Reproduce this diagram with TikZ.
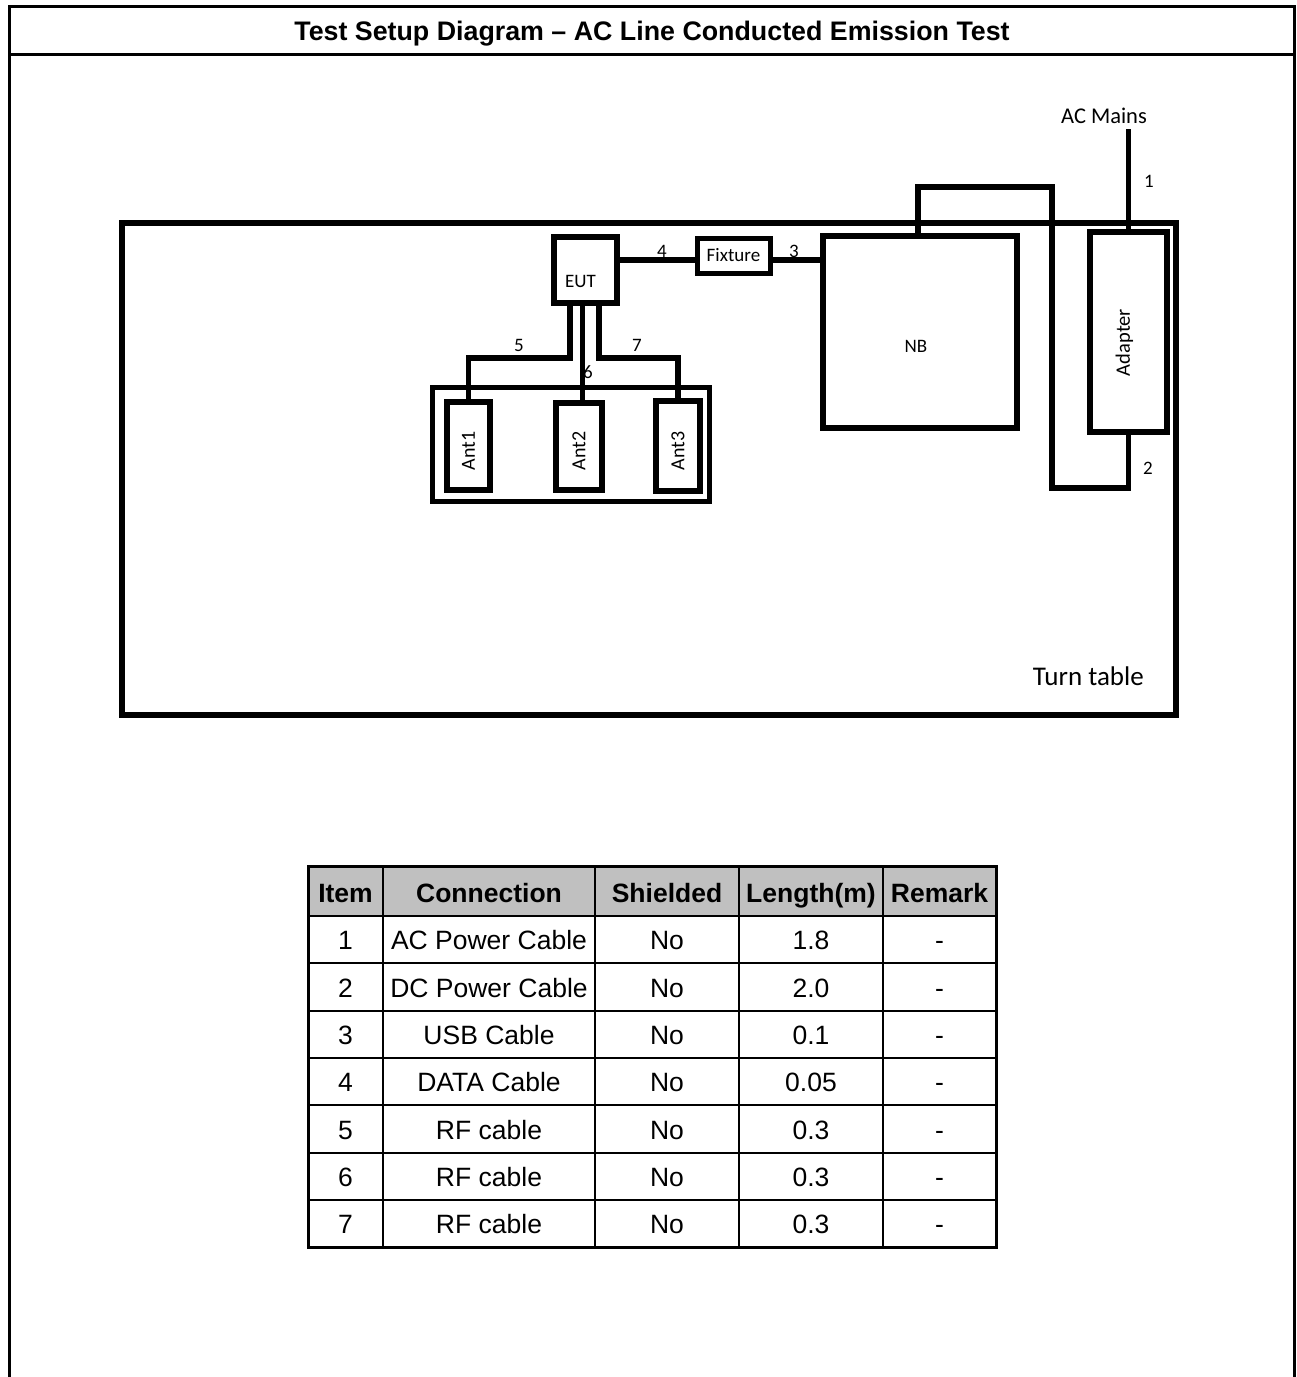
\documentclass[tikz,border=0pt]{standalone}
\usepackage{fontspec}
\setmainfont{Liberation Sans}
\newfontfamily\diafont{Carlito}
\definecolor{HeadGray}{RGB}{192,192,192}
\usetikzlibrary{positioning,calc}

\begin{document}
\begin{tikzpicture}[
      x=1pt, y=-1pt,
      every node/.style={align=center, inner sep=0pt},
      unit/.style={draw, line width=5.5pt, font=\diafont\fontsize{19}{21}\selectfont},
      antbox/.style={unit, text height=48pt, font=\diafont\fontsize{20}{22}\selectfont},
      cable/.style={line width=5.5pt},
      num/.style={font=\diafont\fontsize{19}{21}\selectfont},
      frame/.style={line width=3pt},
      grid/.style={line width=2pt},
      cell/.style={anchor=base, font=\fontsize{26.5}{29}\selectfont},
      head/.style={cell, font=\bfseries\fontsize{26.5}{29}\selectfont}
  ]
    \useasboundingbox (0,0) rectangle (1297,1377);
    \draw[frame] (9,1377) |- (1294,6.5) -- (1294,1377);
    \draw[frame] (9,54) -- (1294,54);
    \node[anchor=base, font=\bfseries\fontsize{26.8}{29}\selectfont] (title) at (652,40.5)
      {Test Setup Diagram -- AC Line Conducted Emission Test};

    \node[draw, line width=6pt, minimum width=1054pt, minimum height=492pt] (tt) at (649,469) {};
    \node[font=\diafont\fontsize{27}{30}\selectfont, anchor=south east] (ttlabel) at (1144,686) {Turn table};

    \node[unit, text height=36pt, minimum width=63pt, minimum height=66pt] (eut) at (585.5,270) {EUT\hspace*{10pt}};
    \node[unit, line width=5pt, minimum width=73pt, minimum height=35pt] (fix) at (733.5,255.5) {Fixture};
    \node[unit, text height=40pt, minimum width=194pt, minimum height=192pt] (nb) at (920,332) {NB\hspace*{8pt}};
    \node[unit, text height=88pt, minimum width=77pt, minimum height=200pt, font=\diafont\fontsize{20.5}{22}\selectfont] (adp) at (1128.5,332)
      {\rotatebox{90}{Adapter}\hspace*{8pt}};
    \node[font=\diafont\fontsize{22.5}{25}\selectfont] (mains) at (1104,116) {AC Mains};

    \node[unit, line width=5pt, minimum width=277pt, minimum height=114pt] (antbay) at (571,444.5) {};
    \node[antbox, minimum width=43pt, minimum height=88pt] (ant1) at (468.5,446) {\rotatebox{90}{Ant1}};
    \node[antbox, minimum width=46pt, minimum height=87pt] (ant2) at (579,446.5) {\rotatebox{90}{Ant2}};
    \node[antbox, minimum width=44pt, minimum height=90pt] (ant3) at (678,446) {\rotatebox{90}{Ant3}};

    \coordinate (bus) at (0,358);
    \coordinate (hookA) at (1052,187);
    \coordinate (hookB) at (1052,488);
    \coordinate (usb) at ([yshift=-4.5pt]fix.west);

    \draw[cable] (adp.north) -- ([yshift=-5pt]adp.north |- mains.south);
    \draw[cable] ([xshift=-2pt]nb.north) |- (hookA) -- (hookB) -| (adp.south);
    \draw[cable] ([yshift=-4.5pt]fix.east) -- ([yshift=-4.5pt]fix.east -| nb.west);
    \draw[cable] (eut.east |- usb) -- (usb);
    \draw[cable] ([xshift=-15.5pt]eut.south) |- (ant1.north |- bus) -- (ant1.north);
    \draw[cable] ([xshift=-3pt]eut.south) -- ([xshift=-3pt]eut.south |- ant2.north);
    \draw[cable] ([xshift=13.5pt]eut.south) |- (ant3.north |- bus) -- (ant3.north);

    \node[num] (n1) at (1149,181) {1};
    \node[num] (n2) at (1148,468) {2};
    \node[num] (n3) at (794,251) {3};
    \node[num] (n4) at (662,251) {4};
    \node[num] (n5) at (519,345) {5};
    \node[num] (n6) at (588,372) {6};
    \node[num] (n7) at (637,345) {7};

    \fill[HeadGray] (308,866) rectangle (996,916);
    \foreach \x in {383,595,739,883}
      \draw[grid] (\x,866) -- (\x,1247);
    \foreach \k in {0,...,6}
      \draw[grid] (308,{916+47.3*\k}) -- (996,{916+47.3*\k});
    \draw[frame] (308,866) rectangle (996,1247);

    \foreach \x/\t [count=\c] in {345.5/Item, 489/Connection, 667/Shielded, 811/Length(m), 939.5/Remark}
      \node[head] (h\c) at (\x,902) {\t};
    \foreach \conn/\len [count=\r] in {AC Power Cable/1.8, DC Power Cable/2.0, USB Cable/0.1,
        DATA Cable/0.05, RF cable/0.3, RF cable/0.3, RF cable/0.3}{
      \pgfmathsetmacro\yb{916+47.3*\r-13.5}
      \node[cell] (item\r) at (345.5,\yb) {\r};
      \node[cell] (conn\r) at (489,\yb) {\conn};
      \node[cell] (shield\r) at (667,\yb) {No};
      \node[cell] (len\r) at (811,\yb) {\len};
      \node[cell] (rem\r) at (939.5,\yb) {-};
    }
  \end{tikzpicture}
\end{document}
